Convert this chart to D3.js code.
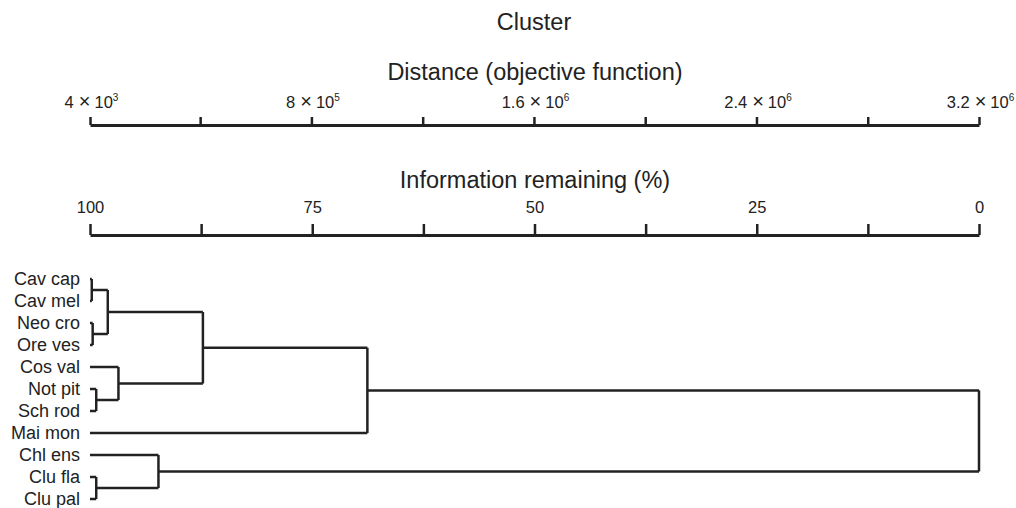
<!DOCTYPE html>
<html><head><meta charset="utf-8">
<script src="https://cdn.jsdelivr.net/npm/d3@7"></script>
<style>body{margin:0;background:#fff}text{font-family:"Liberation Sans",Arial,sans-serif;fill:#222}</style>
</head><body><svg id="c" width="1016" height="508"></svg>
<script>
// ---- data ----
const leaves = ["Cav cap","Cav mel","Neo cro","Ore ves","Cos val","Not pit","Sch rod","Mai mon","Chl ens","Clu fla","Clu pal"];
const mergeNames = ["m1","m2","m3","m4","m5","m6","m7","m8","m9","m10"];
const mergeChildren = [
  ["Cav cap","Cav mel"],
  ["Neo cro","Ore ves"],
  ["m1","m2"],
  ["Not pit","Sch rod"],
  ["Cos val","m4"],
  ["m3","m5"],
  ["m6","Mai mon"],
  ["Clu fla","Clu pal"],
  ["Chl ens","m8"],
  ["m7","m9"]
];
// information remaining (%) at each merge
const mergeInfo = [99.8, 99.7, 98.0, 99.3, 96.8, 87.3, 68.8, 99.3, 92.3, 0];
const distTicks = [4e3, 4e5, 8e5, 1.2e6, 1.6e6, 2.0e6, 2.4e6, 2.8e6, 3.2e6];
const distLabels = {4e3:["4","3"], 8e5:["8","5"], 1.6e6:["1.6","6"], 2.4e6:["2.4","6"], 3.2e6:["3.2","6"]};
const infoTicks = [100, 87.5, 75, 62.5, 50, 37.5, 25, 12.5, 0];
const infoLabels = [100, 75, 50, 25, 0];

// ---- layout ----
const svg = d3.select("#c");
const x0 = 90, x1 = 979;
const xInfo = d3.scaleLinear().domain([100, 0]).range([x0, x1]);
const xDist = d3.scaleLinear().domain([4e3, 3.2e6]).range([x0, x1]);
const yLeaf = d3.scalePoint().domain(leaves).range([279, 499]);
const ink = "#222";

svg.append("text").attr("x", 534).attr("y", 30).attr("text-anchor","middle").style("font-size","23.5px").text("Cluster");
svg.append("text").attr("x", 535).attr("y", 80).attr("text-anchor","middle").style("font-size","23.5px").text("Distance (objective function)");
svg.append("text").attr("x", 535).attr("y", 188).attr("text-anchor","middle").style("font-size","23.5px").text("Information remaining (%)");

function styleAxis(g){
  g.select(".domain").attr("stroke", ink).attr("stroke-width", 3);
  g.selectAll(".tick line").attr("stroke", ink).attr("stroke-width", 2.5);
  g.selectAll(".tick text").style("font-size","16.5px").attr("fill", ink);
}
const gD = svg.append("g").attr("transform","translate(0,125)")
  .call(d3.axisTop(xDist).tickValues(distTicks).tickSize(8).tickSizeOuter(0).tickPadding(9).tickFormat(""));
styleAxis(gD);
gD.selectAll(".tick").each(function(d){
  const lab = distLabels[d];
  const t = d3.select(this).select("text");
  if(!lab){ t.remove(); return; }
  t.text(null).attr("dx", 1);
  t.append("tspan").text(lab[0]);
  t.append("tspan").attr("dx", 5).style("font-size","20px").text("\u00d7");
  t.append("tspan").attr("dx", 4).text("10");
  t.append("tspan").attr("dy", -7).style("font-size","10px").text(lab[1]);
});

const gI = svg.append("g").attr("transform","translate(0,235)")
  .call(d3.axisTop(xInfo).tickValues(infoTicks).tickSize(11).tickSizeOuter(0).tickPadding(11)
    .tickFormat(d => infoLabels.includes(d) ? d3.format("d")(d) : ""));
styleAxis(gI);

// ---- dendrogram ----
const nodes = {};
leaves.forEach(n => nodes[n] = {name:n, info:100, y:yLeaf(n), children:null});
mergeNames.forEach((n,i) => {
  const ch = mergeChildren[i].map(c => nodes[c]);
  nodes[n] = {name:n, info:mergeInfo[i], y:d3.mean(ch, c => c.y), children:ch};
});
const g = svg.append("g").attr("fill","none").attr("stroke", ink).attr("stroke-width", 2.5);
mergeNames.forEach(n => {
  const p = nodes[n];
  const px = xInfo(p.info);
  p.children.forEach(c => {
    g.append("path").attr("d", `M${xInfo(c.info)},${c.y}H${px}`);
  });
  g.append("path").attr("d", `M${px},${d3.min(p.children,c=>c.y)}V${d3.max(p.children,c=>c.y)}`);
});
leaves.forEach(n => {
  svg.append("text").attr("x", 80).attr("y", yLeaf(n)).attr("dy","0.35em")
    .attr("text-anchor","end").style("font-size","18px").text(n);
});
</script></body></html>
